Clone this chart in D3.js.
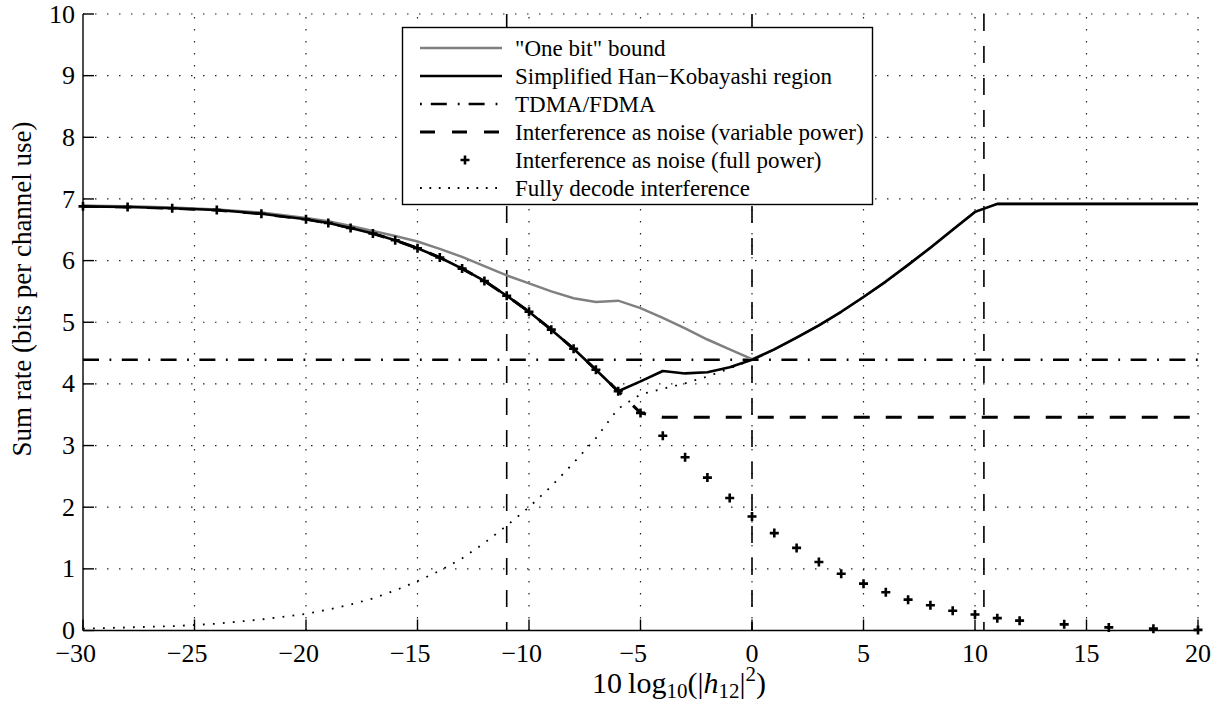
<!DOCTYPE html>
<html>
<head>
<meta charset="utf-8">
<script src="https://cdn.jsdelivr.net/npm/d3@7"></script>
<style>
  body { margin: 0; background: #fff; }
</style>
</head>
<body>
<script>
// interference level in dB, 10 log10(|h12|^2)
const xs = [-30, -28, -26, -24, -22, -20, -19, -18, -17, -16, -15, -14, -13, -12, -11, -10, -9, -8, -7, -6,
  -5, -4, -3, -2, -1, 0, 1, 2, 3, 4, 5, 6, 7, 8, 9, 10, 11, 12, 14, 16, 18, 20];

const fullPowerRate = [6.88, 6.87, 6.85, 6.82, 6.76, 6.67, 6.61, 6.53, 6.44, 6.33, 6.20, 6.05, 5.87, 5.67, 5.43, 5.17, 4.88, 4.57, 4.23, 3.88,
  3.53, 3.16, 2.81, 2.48, 2.15, 1.85, 1.58, 1.34, 1.11, 0.92, 0.76, 0.62, 0.50, 0.41, 0.32, 0.26, 0.20, 0.16, 0.10, 0.05, 0.03, 0.01];

const hkRate = [6.88, 6.87, 6.85, 6.82, 6.76, 6.67, 6.61, 6.53, 6.44, 6.33, 6.20, 6.05, 5.87, 5.67, 5.43, 5.17, 4.88, 4.57, 4.23, 3.88,
  4.04, 4.21, 4.17, 4.19, 4.27, 4.39, 4.56, 4.75, 4.95, 5.17, 5.41, 5.66, 5.93, 6.21, 6.50, 6.79, 6.92, 6.92, 6.92, 6.92, 6.92, 6.92];

const oneBitRate = [6.89, 6.88, 6.86, 6.83, 6.78, 6.69, 6.64, 6.56, 6.48, 6.40, 6.31, 6.19, 6.06, 5.91, 5.76, 5.63, 5.50, 5.39, 5.33, 5.35,
  5.23, 5.07, 4.90, 4.72, 4.56, 4.40, 4.56, 4.75, 4.95, 5.17, 5.41, 5.66, 5.93, 6.21, 6.50, 6.79, 6.92, 6.92, 6.92, 6.92, 6.92, 6.92];

const fullDecodeRate = [0.03, 0.05, 0.07, 0.11, 0.18, 0.27, 0.34, 0.42, 0.52, 0.65, 0.80, 0.97, 1.17, 1.42, 1.70, 2.00, 2.34, 2.72, 3.12, 3.60,
  3.83, 3.92, 4.01, 4.12, 4.25, 4.39, 4.56, 4.75, 4.95, 5.17, 5.41, 5.66, 5.93, 6.21, 6.50, 6.79, 6.92, 6.92, 6.92, 6.92, 6.92, 6.92];

const varPowerRate = [6.88, 6.87, 6.85, 6.82, 6.76, 6.67, 6.61, 6.53, 6.44, 6.33, 6.20, 6.05, 5.87, 5.67, 5.43, 5.17, 4.88, 4.57, 4.23, 3.88,
  3.53, 3.46, 3.46, 3.46, 3.46, 3.46, 3.46, 3.46, 3.46, 3.46, 3.46, 3.46, 3.46, 3.46, 3.46, 3.46, 3.46, 3.46, 3.46, 3.46, 3.46, 3.46];

const tdmaRate = 4.39;
const regionBounds = [-11, 0, 10.4];   // vertical dashed lines

const xTicks = [-30, -25, -20, -15, -10, -5, 0, 5, 10, 15, 20];
const yTicks = [0, 1, 2, 3, 4, 5, 6, 7, 8, 9, 10];

const legendLabels = ['"One bit" bound', 'Simplified Han\u2212Kobayashi region', 'TDMA/FDMA',
  'Interference as noise (variable power)', 'Interference as noise (full power)', 'Fully decode interference'];

const width = 1221, height = 704;
const svg = d3.select('body').append('svg')
  .attr('width', width)
  .attr('height', height)
  .attr('font-family', "'Liberation Serif', 'Times New Roman', Times, 'DejaVu Serif', serif");

const x = d3.scaleLinear().domain([-30, 20]).range([83, 1198]);
const y = d3.scaleLinear().domain([0, 10]).range([630.5, 14]);

const fmt = v => v < 0 ? '\u2212' + Math.abs(v) : String(v);

// grid
const grid = svg.append('g')
  .attr('stroke', '#222')
  .attr('stroke-width', 1.2)
  .attr('stroke-dasharray', '1.5 10.5');
grid.selectAll('.gx').data(xTicks.slice(1)).enter().append('line')
  .attr('x1', d => x(d)).attr('x2', d => x(d))
  .attr('y1', y(0)).attr('y2', y(10));
grid.selectAll('.gy').data(yTicks.slice(1)).enter().append('line')
  .attr('x1', x(-30)).attr('x2', x(20))
  .attr('y1', d => y(d)).attr('y2', d => y(d));

const line = d3.line().x(d => x(d[0])).y(d => y(d[1]));
const pts = arr => xs.map((v, i) => [v, arr[i]]);

// vertical region boundaries
svg.append('g').selectAll('line').data(regionBounds).enter().append('line')
  .attr('x1', d => x(d)).attr('x2', d => x(d))
  .attr('y1', y(10)).attr('y2', y(0))
  .attr('stroke', '#000')
  .attr('stroke-width', 1.6)
  .attr('stroke-dasharray', '17 15');

// TDMA/FDMA
svg.append('path')
  .attr('d', line([[-30, tdmaRate], [20, tdmaRate]]))
  .attr('fill', 'none').attr('stroke', '#000').attr('stroke-width', 2.5)
  .attr('stroke-dasharray', '16 10.5 1.8 10.5');

// fully decode
svg.append('path')
  .attr('d', line(pts(fullDecodeRate)))
  .attr('fill', 'none').attr('stroke', '#000').attr('stroke-width', 1.8)
  .attr('stroke-dasharray', '1.8 8.2');

// interference as noise, variable power
svg.append('path')
  .attr('d', line(pts(varPowerRate)))
  .attr('fill', 'none').attr('stroke', '#000').attr('stroke-width', 3)
  .attr('stroke-dasharray', '16 16');

// one bit bound
svg.append('path')
  .attr('d', line(pts(oneBitRate)))
  .attr('fill', 'none').attr('stroke', '#808080').attr('stroke-width', 2.5);

// HK region
svg.append('path')
  .attr('d', line(pts(hkRate)))
  .attr('fill', 'none').attr('stroke', '#000').attr('stroke-width', 2.6)
  .attr('stroke-linejoin', 'round');

// full power markers
const plus = 'M-4.5,0H4.5M0,-4.5V4.5';
svg.append('g').selectAll('path').data(pts(fullPowerRate)).enter().append('path')
  .attr('transform', d => `translate(${x(d[0])},${y(d[1])})`)
  .attr('d', plus)
  .attr('stroke', '#000').attr('stroke-width', 2.6);

// axes
const axisG = svg.append('g').attr('stroke', '#000').attr('stroke-width', 1.4);
axisG.append('line').attr('x1', x(-30)).attr('x2', x(-30)).attr('y1', y(10)).attr('y2', y(0));
axisG.append('line').attr('x1', x(-30)).attr('x2', x(20)).attr('y1', y(0)).attr('y2', y(0));
axisG.selectAll('.tx').data(xTicks).enter().append('line')
  .attr('x1', d => x(d)).attr('x2', d => x(d))
  .attr('y1', y(0)).attr('y2', y(0) - 11);
axisG.selectAll('.ty').data(yTicks).enter().append('line')
  .attr('x1', x(-30)).attr('x2', x(-30) + 11)
  .attr('y1', d => y(d)).attr('y2', d => y(d));

svg.append('g').selectAll('text').data(xTicks).enter().append('text')
  .attr('x', d => x(d))
  .attr('dx', d => d < 0 ? '-0.28em' : 0)
  .attr('y', 662)
  .attr('text-anchor', 'middle')
  .attr('font-size', 26)
  .text(fmt);

svg.append('g').selectAll('text').data(yTicks).enter().append('text')
  .attr('x', 75)
  .attr('y', d => y(d))
  .attr('dy', '0.33em')
  .attr('text-anchor', 'end')
  .attr('font-size', 26)
  .text(fmt);

// axis labels
svg.append('text')
  .attr('transform', 'translate(31,289) rotate(-90)')
  .attr('text-anchor', 'middle')
  .attr('font-size', 27)
  .text('Sum rate (bits per channel use)');

const xl = svg.append('text')
  .attr('x', 679).attr('y', 693)
  .attr('text-anchor', 'middle')
  .attr('font-size', 30);
xl.append('tspan').text('10\u2009log');
xl.append('tspan').attr('font-size', 21).attr('dy', 5).text('10');
xl.append('tspan').attr('dy', -5).text('(|');
xl.append('tspan').attr('font-style', 'italic').text('h');
xl.append('tspan').attr('font-size', 21).attr('dy', 5).text('12');
xl.append('tspan').attr('dy', -5).text('|');
xl.append('tspan').attr('font-size', 21).attr('dy', -12).text('2');
xl.append('tspan').attr('dy', 12).text(')');

// legend
const lg = svg.append('g');
lg.append('rect')
  .attr('x', 402.5).attr('y', 27.5)
  .attr('width', 470).attr('height', 177)
  .attr('fill', '#fff').attr('stroke', '#000').attr('stroke-width', 1.4);

const rowY = i => 48 + i * 28;
const sampleStyles = [
  { stroke: '#808080', w: 2.5, dash: null },
  { stroke: '#000', w: 2.6, dash: null },
  { stroke: '#000', w: 2.5, dash: '1.8 9 16 11' },
  { stroke: '#000', w: 3, dash: '15 17' },
  null,
  { stroke: '#000', w: 1.8, dash: '1.8 7.6' }
];
legendLabels.forEach((label, i) => {
  const s = sampleStyles[i];
  if (s) {
    lg.append('line')
      .attr('x1', 420).attr('x2', 502)
      .attr('y1', rowY(i)).attr('y2', rowY(i))
      .attr('stroke', s.stroke).attr('stroke-width', s.w)
      .attr('stroke-dasharray', s.dash);
  } else {
    lg.append('path')
      .attr('transform', `translate(465,${rowY(i)})`)
      .attr('d', plus)
      .attr('stroke', '#000').attr('stroke-width', 2.6);
  }
  lg.append('text')
    .attr('x', 515).attr('y', rowY(i))
    .attr('dy', '0.35em')
    .attr('font-size', 23)
    .text(label);
});
</script>
</body>
</html>
